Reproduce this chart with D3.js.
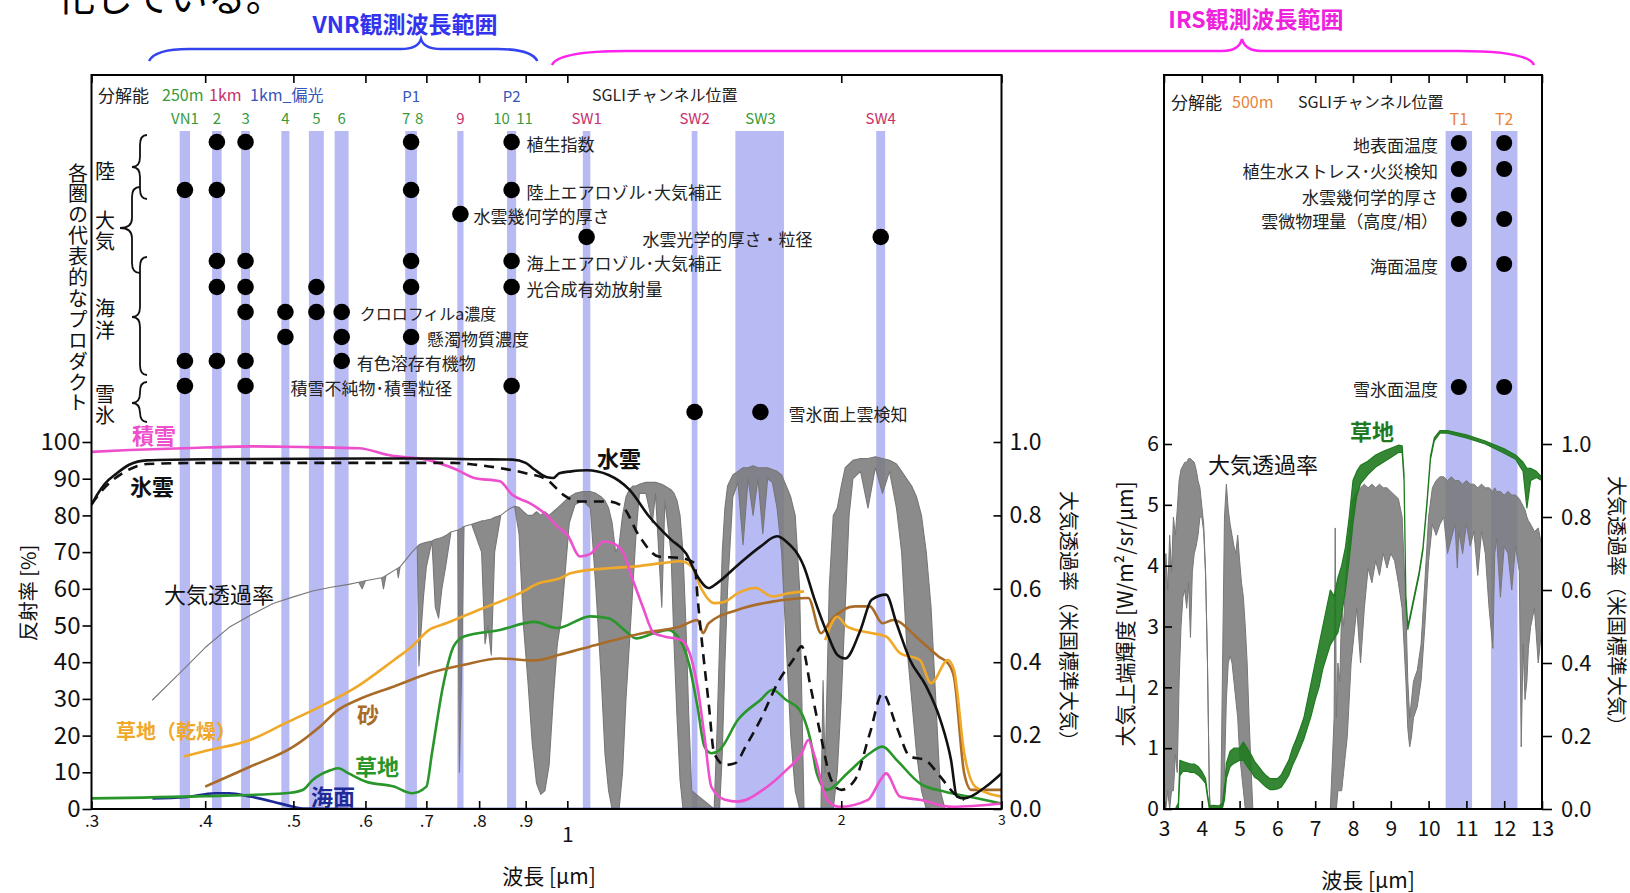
<!DOCTYPE html>
<html><head><meta charset="utf-8">
<script src="https://cdn.jsdelivr.net/npm/d3@7"></script>
<style>
body{margin:0;background:#fff;}
svg{display:block;}
text{font-family:"Noto Sans CJK JP","Noto Sans",sans-serif;}
</style></head><body>
<svg id="c" width="1630" height="893"></svg>
<script>
// ---------------- DATA ----------------
// SGLI VNR/SWI channels: [name, centre wavelength (um), bandwidth (um), resolution]
const vnrChannels = [
  ["VN1",0.380,0.010,"250m"],["VN2",0.412,0.010,"250m"],["VN3",0.443,0.010,"250m"],
  ["VN4",0.490,0.010,"250m"],["VN5",0.530,0.020,"250m"],["VN6",0.565,0.020,"250m"],
  ["VN7",0.6735,0.020,"250m"],["VN8",0.6735,0.020,"250m"],["VN9",0.763,0.012,"1km"],
  ["VN10",0.8685,0.020,"250m"],["VN11",0.8685,0.020,"250m"],
  ["SW1",1.050,0.020,"1km"],["SW2",1.380,0.020,"1km"],["SW3",1.630,0.200,"250m"],["SW4",2.210,0.050,"1km"]
];
const polChannels = [["P1",0.6735],["P2",0.8685]];
const channelLabels = [["VN1","VN1"],["2","VN2"],["3","VN3"],["4","VN4"],["5","VN5"],["6","VN6"],
  ["7","VN7"],["8","VN8"],["9","VN9"],["10","VN10"],["11","VN11"],["SW1","SW1"],["SW2","SW2"],["SW3","SW3"],["SW4","SW4"]];
const irChannels = [["T1",10.8,0.7,"500m"],["T2",12.0,0.7,"500m"]];

// products (left panel)
const productLabels = ["植生指数","陸上エアロゾル･大気補正","水雲幾何学的厚さ","水雲光学的厚さ・粒径",
  "海上エアロゾル･大気補正","光合成有効放射量","クロロフィルa濃度","懸濁物質濃度","有色溶存有機物",
  "積雪不純物･積雪粒径","雪氷面上雲検知"];
const productChannels = [
  ["VN2","VN3","VN8","VN11"],["VN1","VN2","VN8","VN11"],["VN9"],["SW1","SW4"],
  ["VN2","VN3","VN8","VN11"],["VN2","VN3","VN5","VN8","VN11"],["VN3","VN4","VN5","VN6"],
  ["VN4","VN6","VN8"],["VN1","VN2","VN3","VN6"],["VN1","VN3","VN11"],["SW2","SW3"]];
const sphereLabels = ["陸","大気","海洋","雪氷"];
// products (right panel)
const irProductLabels = ["地表面温度","植生水ストレス･火災検知","水雲幾何学的厚さ","雲微物理量（高度/相）","海面温度","雪氷面温度"];
const irProductChannels = [["T1","T2"],["T1","T2"],["T1"],["T1","T2"],["T1","T2"],["T1","T2"]];

// reflectance spectra [wavelength um, reflectance %]
const snowRefl = [[0.30,97.3],[0.33,97.8],[0.38,98.3],[0.45,98.8],[0.52,98.6],[0.59,98.3],[0.64,96.3],[0.70,95.2],
  [0.755,92.5],[0.79,90.2],[0.843,89.3],[0.87,85.6],[0.908,83.4],[0.95,80],[0.975,77],[1.0,74.7],[1.033,68.8],
  [1.06,69.5],[1.097,72.9],[1.12,72.5],[1.15,70.2],[1.18,62.5],[1.21,55.2],[1.245,47.9],[1.278,47],[1.335,46],
  [1.37,40.6],[1.39,33.4],[1.415,19.7],[1.44,6],[1.49,2.5],[1.54,2],[1.64,5.2],[1.74,10.6],[1.81,15.2],[1.84,18.8],
  [1.87,14.3],[1.93,2.5],[1.99,0.6],[2.14,2.5],[2.21,8],[2.24,9.7],[2.32,3.4],[2.44,2.5],[2.65,0.6],[3.0,1.5]];
const waterCloudRefl = [[0.30,82.9],[0.305,86],[0.31,88.5],[0.32,91.5],[0.33,93.8],[0.345,95.0],[0.40,95.3],[0.60,95.5],
  [0.70,95.5],[0.80,95.3],[0.87,95.2],[0.90,94.3],[0.92,92.5],[0.95,90.4],[0.965,90.2],[0.98,91.5],[1.01,92],[1.05,92.3],
  [1.11,91],[1.17,87],[1.23,79.7],[1.30,73.4],[1.35,69.7],[1.39,63.4],[1.43,60.2],[1.46,61.5],[1.54,66.5],[1.63,71.5],
  [1.70,74.3],[1.74,72.9],[1.82,66],[1.87,57],[1.93,47.9],[1.98,42],[2.02,41],[2.10,48.8],[2.16,57],[2.24,58.4],
  [2.30,50.6],[2.38,40.6],[2.48,33.4],[2.57,24.3],[2.64,13.4],[2.68,3.4],[2.73,2.9],[2.88,6],[3.0,9.7]];
const iceCloudRefl = [[0.30,83],[0.31,87.5],[0.32,90.5],[0.33,92.5],[0.345,94.0],[0.40,94.3],[0.60,94.3],[0.75,94.3],
  [0.78,94],[0.843,92.9],[0.90,91.5],[0.95,89.7],[0.99,85.6],[1.03,83.8],[1.11,83.8],[1.15,82.4],[1.20,74.3],[1.26,68.8],
  [1.33,68.4],[1.38,67],[1.39,57.9],[1.41,42.5],[1.43,28.8],[1.45,15.2],[1.49,12],[1.53,12.5],[1.57,17],[1.63,24.3],
  [1.71,35.2],[1.77,40.6],[1.81,44.3],[1.85,33.4],[1.90,19.7],[1.95,7.9],[2.00,5.2],[2.07,7.9],[2.15,20.6],[2.22,31.5],
  [2.30,22.5],[2.38,14.3],[2.47,13.4],[2.57,8.8],[2.66,4.3],[2.73,2.5]];
const dryGrassRefl = [[0.379,14.3],[0.40,15.8],[0.448,18.8],[0.49,23.4],[0.535,27.9],[0.588,33.4],[0.645,40.6],[0.675,44.3],
  [0.705,48.8],[0.736,50.6],[0.80,54.3],[0.887,58.8],[0.93,61.5],[0.98,62.8],[1.01,64.3],[1.11,65.6],[1.19,66.1],[1.27,67],
  [1.33,67.5],[1.37,66.1],[1.40,60.6],[1.45,56.1],[1.49,56.5],[1.54,58.8],[1.61,60.2],[1.68,57.9],[1.75,58.8],[1.82,59.3],
  [1.87,null],[1.92,46],[1.98,52.4],[2.03,49.7],[2.15,48],[2.24,47],[2.32,42.5],[2.44,40.6],[2.51,34.3],[2.62,40.6],
  [2.66,37.9],[2.73,15.2],[2.81,6],[3.0,3.4]];
const sandRefl = [[0.40,6.1],[0.448,11.5],[0.50,17],[0.535,22.5],[0.56,27],[0.588,29.7],[0.645,33.4],[0.705,37],[0.77,39.3],
  [0.843,41],[0.92,40.5],[0.98,42],[1.06,44.3],[1.21,47.9],[1.33,49.7],[1.39,51.5],[1.41,47.9],[1.43,50.6],[1.54,54.3],
  [1.68,56.5],[1.84,57.5],[1.90,47.9],[1.95,51.5],[2.07,55.2],[2.15,55.2],[2.22,50.6],[2.28,51.5],[2.44,46],[2.56,41.5],
  [2.62,39.7],[2.66,36],[2.73,9.7],[2.78,5.2],[3.0,5.2]];
const grassRefl = [[0.30,2.9],[0.40,3.5],[0.49,4.3],[0.512,5.2],[0.525,7.9],[0.55,10.6],[0.56,11.1],[0.575,9.7],[0.60,7.5],
  [0.645,6.1],[0.675,4.3],[0.70,6.1],[0.71,15.2],[0.73,33.4],[0.75,44.3],[0.77,47],[0.843,48.8],[0.92,51],[0.975,49.3],
  [1.06,52.5],[1.11,52],[1.16,48.4],[1.19,46.5],[1.245,47.9],[1.29,48.8],[1.33,46],[1.36,39.7],[1.39,27.9],[1.415,17],
  [1.44,15.2],[1.47,16.1],[1.54,24.3],[1.63,29.7],[1.68,32.5],[1.74,29.7],[1.80,27],[1.85,18.8],[1.88,9.7],[1.93,5.2],
  [2.03,9.7],[2.15,15.2],[2.22,17],[2.30,13.4],[2.44,7],[2.60,4.7],[2.76,3.4],[3.0,1.5]];
const seaRefl = [[0.35,2.9],[0.38,3.2],[0.41,4.3],[0.425,4.3],[0.448,3.4],[0.475,2],[0.50,0.6],[0.512,0.1],[0.6,0],[1.0,0],[2.5,0]];

// atmospheric transmittance (US standard), [wavelength, upper envelope, lower envelope]
const transVNR = [
 [0.350,0.297,0.297],[0.375,0.37,0.37],[0.400,0.44,0.44],[0.425,0.495,0.495],[0.450,0.53,0.53],
 [0.475,0.56,0.56],[0.500,0.578,0.578],[0.525,0.594,0.594],[0.550,0.604,0.604],[0.575,0.612,0.612],
 [0.590,0.618,0.618],[0.595,0.62,0.60],[0.600,0.622,0.622],[0.625,0.63,0.63],[0.628,0.632,0.60],
 [0.632,0.636,0.636],[0.650,0.655,0.655],[0.652,0.657,0.63],[0.655,0.66,0.66],[0.675,0.70,0.70],
 [0.684,0.715,0.715],[0.687,0.72,0.39],[0.690,0.722,0.47],[0.695,0.725,0.58],[0.700,0.727,0.66],
 [0.710,0.73,0.73],[0.716,0.735,0.55],[0.722,0.737,0.52],[0.728,0.74,0.60],[0.735,0.745,0.66],
 [0.745,0.755,0.755],[0.758,0.76,0.76],[0.761,0.762,0.10],[0.765,0.765,0.35],[0.770,0.77,0.77],
 [0.785,0.776,0.776],[0.805,0.785,0.70],[0.812,0.786,0.45],[0.818,0.788,0.50],[0.825,0.79,0.42],
 [0.832,0.795,0.70],[0.845,0.80,0.80],[0.860,0.815,0.815],[0.875,0.825,0.825],[0.885,0.822,0.75],
 [0.895,0.81,0.50],[0.905,0.80,0.35],[0.915,0.80,0.18],[0.925,0.81,0.07],[0.935,0.80,0.04],
 [0.945,0.81,0.05],[0.955,0.80,0.12],[0.965,0.81,0.30],[0.975,0.82,0.45],[0.985,0.83,0.52],
 [0.995,0.84,0.65],[1.005,0.85,0.78],[1.020,0.86,0.83],[1.040,0.865,0.84],[1.060,0.865,0.82],
 [1.075,0.86,0.60],[1.090,0.85,0.35],[1.100,0.84,0.15],[1.110,0.82,0.05],[1.120,0.78,0.0],
 [1.130,0.70,0.0],[1.140,0.72,0.0],[1.150,0.80,0.10],[1.160,0.85,0.30],[1.170,0.87,0.45],
 [1.180,0.88,0.60],[1.190,0.88,0.75],[1.200,0.885,0.86],[1.220,0.89,0.86],[1.240,0.89,0.78],
 [1.250,0.89,0.86],[1.270,0.885,0.55],[1.280,0.88,0.84],[1.300,0.87,0.70],[1.310,0.86,0.45],
 [1.320,0.84,0.25],[1.330,0.80,0.08],[1.340,0.70,0.0],[1.350,0.50,0.0],[1.360,0.25,0.0],
 [1.370,0.05,0.0],[1.450,0.0,0.0],[1.460,0.20,0.0],[1.470,0.45,0.0],[1.480,0.70,0.15],
 [1.490,0.82,0.40],[1.500,0.88,0.60],[1.520,0.91,0.85],[1.540,0.92,0.89],[1.560,0.93,0.72],
 [1.580,0.93,0.90],[1.600,0.935,0.80],[1.620,0.93,0.90],[1.640,0.93,0.75],[1.660,0.93,0.90],
 [1.680,0.925,0.89],[1.700,0.92,0.82],[1.720,0.91,0.70],[1.740,0.88,0.45],[1.760,0.85,0.20],
 [1.780,0.80,0.05],[1.800,0.60,0.0],[1.810,0.30,0.0],[1.820,0.0,0.0],[1.900,0.0,0.0],
 [1.910,0.35,0.0],[1.920,0.10,0.0],[1.940,0.60,0.0],[1.960,0.80,0.0],[1.980,0.82,0.10],
 [2.000,0.88,0.30],[2.020,0.93,0.55],[2.040,0.94,0.80],[2.060,0.95,0.90],[2.100,0.955,0.92],
 [2.140,0.955,0.82],[2.180,0.96,0.93],[2.220,0.955,0.86],[2.260,0.95,0.92],[2.300,0.94,0.82],
 [2.330,0.92,0.70],[2.360,0.90,0.45],[2.390,0.88,0.30],[2.420,0.85,0.15],[2.450,0.80,0.05],
 [2.480,0.70,0.0],[2.510,0.55,0.0],[2.540,0.30,0.0],[2.570,0.05,0.0],[2.600,0.0,0.0],[2.950,0.0,0.0]];
const transIR = [
 [3.00,0.55,0.0],[3.05,0.70,0.0],[3.10,0.60,0.05],[3.15,0.75,0.0],[3.20,0.65,0.05],[3.25,0.80,0.05],
 [3.30,0.75,0.15],[3.35,0.82,0.10],[3.40,0.90,0.35],[3.45,0.93,0.50],[3.50,0.94,0.58],[3.55,0.95,0.60],
 [3.60,0.95,0.55],[3.65,0.96,0.62],[3.70,0.96,0.47],[3.75,0.955,0.65],[3.80,0.95,0.70],[3.85,0.93,0.72],
 [3.90,0.90,0.75],[3.95,0.88,0.80],[4.00,0.83,0.80],[4.05,0.78,0.76],[4.10,0.65,0.64],[4.15,0.40,0.40],
 [4.20,0.05,0.05],[4.22,0.0,0.0],[4.50,0.0,0.0],[4.55,0.40,0.0],[4.60,0.80,0.10],[4.65,0.89,0.30],
 [4.70,0.82,0.40],[4.75,0.78,0.42],[4.80,0.75,0.40],[4.85,0.72,0.35],[4.90,0.70,0.30],[4.95,0.75,0.25],
 [5.00,0.68,0.15],[5.05,0.62,0.10],[5.10,0.58,0.05],[5.15,0.50,0.0],[5.20,0.40,0.0],[5.25,0.25,0.0],
 [5.30,0.12,0.0],[5.35,0.0,0.0],[7.40,0.0,0.0],[7.45,0.12,0.0],[7.50,0.25,0.0],[7.53,0.77,0.0],
 [7.56,0.25,0.0],[7.60,0.40,0.05],[7.65,0.35,0.05],[7.70,0.55,0.05],[7.75,0.50,0.10],[7.80,0.62,0.15],
 [7.85,0.70,0.20],[7.90,0.75,0.30],[7.95,0.80,0.40],[8.00,0.85,0.45],[8.10,0.87,0.55],[8.20,0.88,0.40],
 [8.30,0.89,0.55],[8.40,0.88,0.66],[8.50,0.89,0.62],[8.60,0.88,0.68],[8.70,0.89,0.64],[8.80,0.88,0.70],
 [8.90,0.88,0.66],[9.00,0.87,0.70],[9.10,0.86,0.68],[9.20,0.85,0.62],[9.30,0.80,0.55],[9.40,0.55,0.35],
 [9.45,0.35,0.22],[9.50,0.25,0.17],[9.55,0.30,0.20],[9.60,0.35,0.25],[9.70,0.38,0.28],[9.80,0.45,0.35],
 [9.90,0.62,0.50],[10.00,0.80,0.68],[10.10,0.88,0.78],[10.20,0.90,0.75],[10.30,0.91,0.78],[10.40,0.91,0.80],
 [10.50,0.90,0.70],[10.60,0.91,0.74],[10.70,0.90,0.78],[10.76,0.90,0.66],[10.80,0.90,0.76],[10.90,0.89,0.70],
 [11.00,0.90,0.78],[11.10,0.89,0.72],[11.20,0.89,0.76],[11.30,0.88,0.64],[11.40,0.89,0.76],[11.50,0.88,0.70],
 [11.60,0.88,0.55],[11.70,0.87,0.44],[11.75,0.88,0.70],[11.80,0.87,0.74],[11.90,0.87,0.58],[12.00,0.86,0.72],
 [12.10,0.87,0.70],[12.20,0.86,0.60],[12.30,0.86,0.72],[12.40,0.85,0.65],[12.45,0.84,0.17],[12.50,0.83,0.45],
 [12.55,0.82,0.30],[12.60,0.80,0.35],[12.64,0.79,0.44],[12.70,0.78,0.50],[12.80,0.76,0.55],[12.90,0.77,0.40],
 [13.00,0.72,0.50]];
// top-of-atmosphere radiance over grassland, W/m2/sr/um: [wavelength, upper, lower]
const grassRadIR = [
 [3.00,0.0,0.0],[3.30,0.0,0.0],[3.38,0.10,0.0],[3.42,0.80,0.55],[3.50,0.78,0.62],[3.60,0.76,0.62],
 [3.70,0.74,0.60],[3.80,0.74,0.60],[3.90,0.70,0.56],[4.00,0.62,0.50],[4.10,0.50,0.42],[4.15,0.25,0.20],
 [4.20,0.05,0.0],[4.30,0.06,0.02],[4.45,0.05,0.02],[4.55,0.10,0.03],[4.60,0.35,0.15],[4.65,0.75,0.50],
 [4.75,0.95,0.70],[4.85,1.00,0.75],[5.00,1.00,0.80],[5.10,1.10,0.80],[5.20,1.00,0.70],[5.30,0.90,0.62],
 [5.40,0.78,0.52],[5.50,0.70,0.48],[5.60,0.62,0.42],[5.70,0.55,0.36],[5.80,0.50,0.32],[5.90,0.50,0.32],
 [6.00,0.50,0.33],[6.10,0.56,0.36],[6.20,0.68,0.45],[6.30,0.80,0.55],[6.40,1.00,0.72],[6.50,1.15,0.85],
 [6.60,1.32,1.00],[6.70,1.50,1.15],[6.80,1.80,1.35],[6.90,2.10,1.55],[7.00,2.40,1.80],[7.10,2.70,2.00],
 [7.20,3.00,2.30],[7.30,3.30,2.50],[7.40,3.60,2.70],[7.50,3.50,2.80],[7.60,3.80,2.90],[7.70,4.00,3.20],
 [7.80,4.30,3.60],[7.90,4.80,4.10],[8.00,5.40,4.70],[8.10,5.55,5.15],[8.20,5.65,5.35],[8.40,5.72,5.50],
 [8.60,5.82,5.62],[8.80,5.88,5.70],[9.00,5.93,5.78],[9.20,5.98,5.86],[9.30,5.97,5.86],[9.35,5.50,5.40],
 [9.40,3.50,3.40],[9.45,3.00,2.95],[9.55,3.30,3.25],[9.65,3.60,3.55],[9.75,3.90,3.85],[9.85,4.30,4.25],
 [9.95,5.00,4.95],[10.05,5.80,5.75],[10.15,6.10,6.05],[10.30,6.22,6.18],[10.50,6.22,6.18],[11.00,6.15,6.10],
 [11.50,6.05,6.00],[12.00,5.92,5.85],[12.30,5.82,5.75],[12.50,5.70,5.55],[12.60,5.60,4.95],[12.70,5.60,5.40],
 [12.85,5.55,5.45],[13.00,5.45,5.40]];

// ticks
const yTicksRefl = [0,10,20,30,40,50,60,70,80,90,100];
const yTicksTrans = [0,0.2,0.4,0.6,0.8,1.0];
const xTicksVNR = [[0.3,".3"],[0.4,".4"],[0.5,".5"],[0.6,".6"],[0.7,".7"],[0.8,".8"],[0.9,".9"],[1,"1"],[2,"2"],[3,"3"]];
const xTicksIR = [3,4,5,6,7,8,9,10,11,12,13];
const yTicksRad = [0,1,2,3,4,5,6];

// ---------------- DRAW ----------------
const svg = d3.select("#c");
const NUM = '"Liberation Sans",Arial,sans-serif';
const resColor = {"250m":"#3a9a3a","1km":"#c8306a","500m":"#e8843a","pol":"#3355bb"};
const barColor = "#b8baf4";
const grayCol = "#777";

const xL = d3.scaleLog().domain([0.3,3]).range([91.5,1001.5]);
const yL = d3.scaleLinear().domain([0,100]).range([809,442]);
const tL = d3.scaleLinear().domain([0,1]).range([809,442]);
const xR = d3.scaleLinear().domain([3,13]).range([1164,1542]);
const yR = d3.scaleLinear().domain([0,6]).range([809,444]);
const tR = d3.scaleLinear().domain([0,1]).range([809,444]);
const TOP = 75, BOT = 809, BARTOP = 131;

const defs = svg.append("defs");
defs.append("clipPath").attr("id","clipL").append("rect")
  .attr("x",xL.range()[0]).attr("y",TOP).attr("width",xL.range()[1]-xL.range()[0]).attr("height",BOT-TOP);
defs.append("clipPath").attr("id","clipR").append("rect")
  .attr("x",xR.range()[0]).attr("y",TOP).attr("width",xR.range()[1]-xR.range()[0]).attr("height",BOT-TOP);

// title fragment (cut by the top edge, as in the source page)
svg.append("text").attr("x",57).attr("y",11).attr("font-size",38).attr("fill","#000").text("化している。");

// braces
function hBrace(x1,x2,xm,yEnd,yLine,yTip,curl){
  return `M${x1},${yEnd} Q${x1+6},${yLine} ${x1+curl},${yLine} L${xm-20},${yLine} Q${xm-3},${yLine} ${xm},${yTip}`+
         ` Q${xm+3},${yLine} ${xm+20},${yLine} L${x2-curl},${yLine} Q${x2-6},${yLine} ${x2},${yEnd}`;
}
const vnrRange = [0.347,0.927];
svg.append("path").attr("d",hBrace(xL(vnrRange[0]),xL(vnrRange[1]),421,61,49,39,40))
  .attr("fill","none").attr("stroke","#3344ee").attr("stroke-width",2.6);
svg.append("text").attr("x",405).attr("y",23).attr("dominant-baseline","central").attr("text-anchor","middle")
  .attr("font-size",23).attr("font-weight","bold").attr("fill","#3333ee").text("VNR観測波長範囲");
svg.append("path").attr("d",hBrace(552,1534,1242,65,51,39,75))
  .attr("fill","none").attr("stroke","#ff22ee").attr("stroke-width",2.6);
svg.append("text").attr("x",1256).attr("y",18).attr("dominant-baseline","central").attr("text-anchor","middle")
  .attr("font-size",23).attr("font-weight","bold").attr("fill","#ee22dd").text("IRS観測波長範囲");

// ======== LEFT PANEL ========
const gL = svg.append("g");
const uniqBands = vnrChannels.filter(d => d[0]!=="VN8" && d[0]!=="VN11");
gL.selectAll("rect.band").data(uniqBands).join("rect").attr("class","band")
  .attr("x",d=>xL(d[1]-d[2]/2)).attr("width",d=>xL(d[1]+d[2]/2)-xL(d[1]-d[2]/2))
  .attr("y",BARTOP).attr("height",BOT-BARTOP).attr("fill",barColor);

const plotL = gL.append("g").attr("clip-path","url(#clipL)");
function band(g,data,x,y,color,sw,op){
  const area = d3.area().x(d=>x(d[0])).y0(d=>y(d[2])).y1(d=>y(d[1]));
  g.append("path").attr("d",area(data)).attr("fill",color).attr("fill-opacity",op||1).attr("stroke",color)
    .attr("stroke-width",sw).attr("stroke-linejoin","round");
}
band(plotL,transVNR,xL,tL,grayCol,1.1,0.85);

function curve(g,data,color,w,dash){
  const line = d3.line().defined(d=>d[1]!=null).x(d=>xL(d[0])).y(d=>yL(d[1])).curve(d3.curveMonotoneX);
  const p = g.append("path").attr("d",line(data)).attr("fill","none").attr("stroke",color)
    .attr("stroke-width",w).attr("stroke-linejoin","round");
  if(dash) p.attr("stroke-dasharray",dash);
}
curve(plotL,seaRefl,"#1e2a96",2.6);
curve(plotL,grassRefl,"#28962a",2.6);
curve(plotL,sandRefl,"#a86c28",2.6);
curve(plotL,dryGrassRefl,"#f0a828",2.6);
curve(plotL,snowRefl,"#ee4fcc",2.6);
curve(plotL,iceCloudRefl,"#111",2.6,"10,7");
curve(plotL,waterCloudRefl,"#111",2.6);

function txt(g,x,y,s,opt={}){
  const t = g.append("text").attr("x",x).attr("y",y).attr("dominant-baseline","central")
    .attr("font-size",opt.size||16).attr("fill",opt.color||"#222").text(s);
  if(opt.anchor) t.attr("text-anchor",opt.anchor);
  if(opt.weight) t.attr("font-weight",opt.weight);
  if(opt.family) t.attr("font-family",opt.family);
  return t;
}
function vtxt(g,x,yTop,s,size,spacing,color){
  return g.append("text").attr("x",x).attr("y",yTop).attr("dominant-baseline","central")
    .style("writing-mode","vertical-rl").style("text-orientation","upright")
    .attr("letter-spacing",spacing).attr("font-size",size).attr("fill",color||"#111").text(s);
}
const hdrY = 94, chY = 117;
txt(gL,98,hdrY,"分解能",{size:17});
txt(gL,162,hdrY,"250m",{size:16,color:resColor["250m"]});
txt(gL,209,hdrY,"1km",{size:16,color:resColor["1km"]});
txt(gL,250,hdrY,"1km_偏光",{size:16,color:resColor.pol});
txt(gL,592,hdrY,"SGLIチャンネル位置",{size:16});
polChannels.forEach(d=>txt(gL,xL(d[1]),hdrY+1,d[0],{size:15,color:resColor.pol,anchor:"middle"}));
const chDx = {"7":-5,"8":8,"10":-10,"11":13};
const chByName = Object.fromEntries(vnrChannels.map(d=>[d[0],d]));
channelLabels.forEach(([lab,name])=>{
  const c = chByName[name];
  txt(gL,xL(c[1])+(chDx[lab]||0),chY,lab,{size:15,color:resColor[c[3]],anchor:"middle"});
});

const rowY = [142,190,214,237,261,287,312,337,361,386,412];
const labelAnchor = [["VN11",15],["VN11",15],["VN9",13],["SW1",56],["VN11",15],["VN11",15],["VN6",18],["VN8",16],["VN6",15],["VN3",45],["SW3",28]];
productChannels.forEach((chs,i)=>{
  chs.forEach(n=>gL.append("circle").attr("cx",xL(chByName[n][1])).attr("cy",rowY[i]).attr("r",8.3).attr("fill","#000"));
  const a = labelAnchor[i];
  txt(gL,xL(chByName[a[0]][1])+a[1],rowY[i]+1,productLabels[i],{size:i===6?16:17});
});
vtxt(gL,78,163,"各圏の代表的なプロダクト",20,0.9);
const sphereTop = [[105,161,0],[105,210,1],[105,298,2],[105,384,1]];
sphereLabels.forEach((s,i)=>vtxt(gL,sphereTop[i][0],sphereTop[i][1],s,20,sphereTop[i][2]));
function vBrace(xe,xs,xt,y1,y2,ym){
  const d = 10;
  return `M${xe},${y1} Q${xs},${y1} ${xs},${y1+d} L${xs},${ym-d} Q${xs},${ym} ${xt},${ym}`+
         ` Q${xs},${ym} ${xs},${ym+d} L${xs},${y2-d} Q${xs},${y2} ${xe},${y2}`;
}
[[147,140,132,135,199,167],[140,132,120,187,273,228],[147,140,132,257,375,317],[147,140,132,382,422,403]]
  .forEach(b=>gL.append("path").attr("d",vBrace(...b)).attr("fill","none").attr("stroke","#111").attr("stroke-width",1.8));

const lab = (x,y,s,c,w)=>txt(gL,x,y,s,{size:22,color:c,weight:w?"bold":null});
lab(132,434,"積雪","#ee4fcc",true);
lab(130,485,"氷雲","#111",true);
lab(597,457,"水雲","#111",true);
lab(164,593,"大気透過率","#111",false);
txt(gL,116,730,"草地（乾燥）",{size:20,color:"#f0a828",weight:"bold"});
lab(357,713,"砂","#a86c28",true);
lab(355,765,"草地","#28962a",true);
lab(311,795,"海面","#1e2a96",true);

function styleAxis(sel,size,family){
  sel.select(".domain").remove();
  sel.selectAll(".tick line").attr("stroke","#000").attr("stroke-width",1.6);
  sel.selectAll(".tick text").attr("font-size",size).attr("font-family",family||NUM).attr("fill","#111");
}
gL.append("g").attr("transform",`translate(${xL.range()[0]},0)`)
  .call(d3.axisLeft(yL).tickValues(yTicksRefl).tickSize(9).tickPadding(2))
  .call(s=>styleAxis(s,24));
gL.append("g").attr("transform",`translate(${xL.range()[1]},0)`)
  .call(d3.axisRight(tL).tickValues(yTicksTrans).tickFormat(d3.format(".1f")).tickSize(-8).tickPadding(8))
  .call(s=>styleAxis(s,23));
gL.append("g").attr("transform",`translate(0,${BOT})`)
  .call(d3.axisBottom(xL).tickValues(xTicksVNR.map(d=>d[0])).tickFormat((d,i)=>xTicksVNR[i][1]).tickSize(-8).tickPadding(6))
  .call(s=>{
    styleAxis(s,17);
    s.selectAll(".tick text").filter(d=>d===1).attr("font-size",21).attr("dy","1.3em");
    s.selectAll(".tick text").filter(d=>d>=2).attr("font-size",14);
  });
gL.append("g").attr("transform",`translate(0,${TOP})`)
  .call(d3.axisTop(xL).tickValues(xTicksVNR.map(d=>d[0])).tickFormat("").tickSize(-8))
  .call(s=>styleAxis(s,10));
gL.append("rect").attr("x",xL.range()[0]).attr("y",TOP).attr("width",xL.range()[1]-xL.range()[0]).attr("height",BOT-TOP)
  .attr("fill","none").attr("stroke","#000").attr("stroke-width",2);
svg.append("text").attr("transform","translate(27,593) rotate(-90)").attr("text-anchor","middle")
  .attr("dominant-baseline","central").attr("font-size",20).attr("fill","#111").text("反射率 [%]");
svg.append("text").attr("transform","translate(1069,621) rotate(90)").attr("text-anchor","middle")
  .attr("dominant-baseline","central").attr("font-size",20).attr("fill","#111").text("大気透過率（米国標準大気）");
txt(svg,549,875,"波長 [μm]",{size:21,anchor:"middle",color:"#111"});

// ======== RIGHT PANEL ========
const gR = svg.append("g");
gR.selectAll("rect.band").data(irChannels).join("rect").attr("class","band")
  .attr("x",d=>xR(d[1]-d[2]/2)).attr("width",d=>xR(d[1]+d[2]/2)-xR(d[1]-d[2]/2))
  .attr("y",BARTOP).attr("height",BOT-BARTOP).attr("fill",barColor);
const plotR = gR.append("g").attr("clip-path","url(#clipR)");
band(plotR,transIR,xR,tR,grayCol,1.0,0.85);
band(plotR,grassRadIR,xR,yR,"#1f7a1f",1.2,0.9);

txt(gR,1171,101,"分解能",{size:17});
txt(gR,1232,101,"500m",{size:16,color:resColor["500m"]});
txt(gR,1298,101,"SGLIチャンネル位置",{size:16});
irChannels.forEach(d=>txt(gR,xR(d[1]),118,d[0],{size:16,color:resColor[d[3]],anchor:"middle"}));
const irRowY = [143,169,195,219,264,387];
const irByName = Object.fromEntries(irChannels.map(d=>[d[0],d]));
irProductChannels.forEach((chs,i)=>{
  chs.forEach(n=>gR.append("circle").attr("cx",xR(irByName[n][1])).attr("cy",irRowY[i]).attr("r",8).attr("fill","#000"));
  txt(gR,1438,irRowY[i]+1,irProductLabels[i],{size:17,anchor:"end"});
});
txt(gR,1350,430,"草地",{size:22,color:"#1f7a1f",weight:"bold"});
txt(gR,1208,463,"大気透過率",{size:22,color:"#111"});

gR.append("g").attr("transform",`translate(${xR.range()[0]},0)`)
  .call(d3.axisLeft(yR).tickValues(yTicksRad).tickFormat(d3.format("d")).tickSize(-8).tickPadding(5))
  .call(s=>styleAxis(s,21));
gR.append("g").attr("transform",`translate(${xR.range()[1]},0)`)
  .call(d3.axisRight(tR).tickValues(yTicksTrans).tickFormat(d3.format(".1f")).tickSize(10).tickPadding(9))
  .call(s=>styleAxis(s,22));
gR.append("g").attr("transform",`translate(0,${BOT})`)
  .call(d3.axisBottom(xR).tickValues(xTicksIR).tickFormat(d3.format("d")).tickSize(-8).tickPadding(12))
  .call(s=>styleAxis(s,21));
gR.append("g").attr("transform",`translate(0,${TOP})`)
  .call(d3.axisTop(xR).tickValues(xTicksIR).tickFormat("").tickSize(-8))
  .call(s=>styleAxis(s,10));
gR.append("rect").attr("x",xR.range()[0]).attr("y",TOP).attr("width",xR.range()[1]-xR.range()[0]).attr("height",BOT-TOP)
  .attr("fill","none").attr("stroke","#000").attr("stroke-width",2);
svg.append("text").attr("transform","translate(1124,614) rotate(-90)").attr("text-anchor","middle")
  .attr("dominant-baseline","central").attr("font-size",21).attr("fill","#111").text("大気上端輝度 [W/m²/sr/μm]");
svg.append("text").attr("transform","translate(1617,606) rotate(90)").attr("text-anchor","middle")
  .attr("dominant-baseline","central").attr("font-size",20).attr("fill","#111").text("大気透過率（米国標準大気）");
txt(svg,1368,879,"波長 [μm]",{size:21,anchor:"middle",color:"#111"});
</script></body></html>
